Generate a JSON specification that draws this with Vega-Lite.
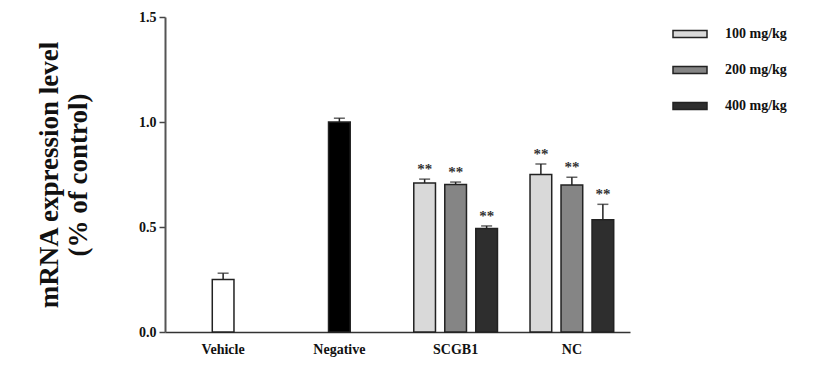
{
  "$schema": "https://vega.github.io/schema/vega-lite/v6.json",
  "autosize": "none",
  "padding": {"left": 165, "top": 17, "right": 197, "bottom": 42},
  "width": 465,
  "height": 315,
  "background": "white",
  "config": {
    "view": {"stroke": null},
    "font": "Liberation Serif"
  },
  "data": {
    "values": [
      {"group": "Vehicle", "series": "Vehicle", "slot": 2, "value": 0.25, "upper": 0.28, "sig": ""},
      {"group": "Negative", "series": "Negative", "slot": 2, "value": 1.0, "upper": 1.018, "sig": ""},
      {"group": "SCGB1", "series": "100 mg/kg", "slot": 1, "value": 0.71, "upper": 0.728, "sig": "**"},
      {"group": "SCGB1", "series": "200 mg/kg", "slot": 2, "value": 0.702, "upper": 0.714, "sig": "**"},
      {"group": "SCGB1", "series": "400 mg/kg", "slot": 3, "value": 0.493, "upper": 0.505, "sig": "**"},
      {"group": "NC", "series": "100 mg/kg", "slot": 1, "value": 0.75, "upper": 0.8, "sig": "**"},
      {"group": "NC", "series": "200 mg/kg", "slot": 2, "value": 0.70, "upper": 0.737, "sig": "**"},
      {"group": "NC", "series": "400 mg/kg", "slot": 3, "value": 0.535, "upper": 0.608, "sig": "**"}
    ]
  },
  "encoding": {
    "x": {
      "field": "group",
      "type": "nominal",
      "sort": ["Vehicle", "Negative", "SCGB1", "NC"],
      "scale": {"paddingInner": 0.2, "paddingOuter": 0.1},
      "axis": {
        "title": null,
        "labelAngle": 0,
        "ticks": false,
        "labelFont": "Liberation Serif",
        "labelFontWeight": "bold",
        "labelFontSize": 14,
        "labelColor": "#111",
        "labelPadding": 10,
        "domainColor": "#333",
        "domainWidth": 1.5
      }
    },
    "xOffset": {
      "field": "slot",
      "type": "ordinal",
      "scale": {"domain": [1, 2, 3], "paddingInner": 0.3, "paddingOuter": 0.15}
    }
  },
  "layer": [
    {
      "mark": {"type": "bar", "stroke": "#222", "strokeWidth": 1.5},
      "encoding": {
        "y": {
          "field": "value",
          "type": "quantitative",
          "scale": {"domain": [0, 1.5], "nice": false},
          "axis": {
            "values": [0, 0.5, 1.0, 1.5],
            "format": ".1f",
            "grid": false,
            "title": ["mRNA  expression level", "(% of control)"],
            "titleFont": "Liberation Serif",
            "titleFontWeight": "bold",
            "titleFontSize": 27,
            "titleLineHeight": 29,
            "titleColor": "#111",
            "titlePadding": 46,
            "labelFont": "Liberation Serif",
            "labelFontWeight": "bold",
            "labelFontSize": 14,
            "labelColor": "#111",
            "labelPadding": 3,
            "tickSize": 6,
            "tickColor": "#444",
            "tickWidth": 1.5,
            "domainColor": "#555",
            "domainWidth": 2
          }
        },
        "color": {
          "field": "series",
          "type": "nominal",
          "scale": {
            "domain": ["Vehicle", "Negative", "100 mg/kg", "200 mg/kg", "400 mg/kg"],
            "range": ["#ffffff", "#000000", "#d9d9d9", "#858585", "#2e2e2e"]
          },
          "legend": {
            "values": ["100 mg/kg", "200 mg/kg", "400 mg/kg"],
            "title": null,
            "orient": "none",
            "legendX": 507,
            "legendY": -1,
            "padding": 0,
            "symbolType": "M-1,-0.2H1V0.2H-1Z",
            "symbolSize": 1156,
            "symbolStrokeColor": "#222",
            "symbolStrokeWidth": 1.5,
            "labelOffset": 17,
            "rowPadding": 11,
            "labelFont": "Liberation Serif",
            "labelFontWeight": "bold",
            "labelFontSize": 14,
            "labelColor": "#111"
          }
        }
      }
    },
    {
      "mark": {"type": "rule", "color": "#222", "strokeWidth": 1.5},
      "encoding": {
        "y": {"field": "value", "type": "quantitative"},
        "y2": {"field": "upper"}
      }
    },
    {
      "mark": {"type": "tick", "color": "#222", "thickness": 1.5, "size": 11, "orient": "horizontal"},
      "encoding": {
        "y": {"field": "upper", "type": "quantitative"}
      }
    },
    {
      "mark": {"type": "text", "font": "Liberation Serif", "fontWeight": "bold", "fontSize": 15, "baseline": "bottom", "dy": -2, "color": "#333"},
      "encoding": {
        "y": {"field": "upper", "type": "quantitative"},
        "text": {"field": "sig"}
      }
    }
  ]
}
